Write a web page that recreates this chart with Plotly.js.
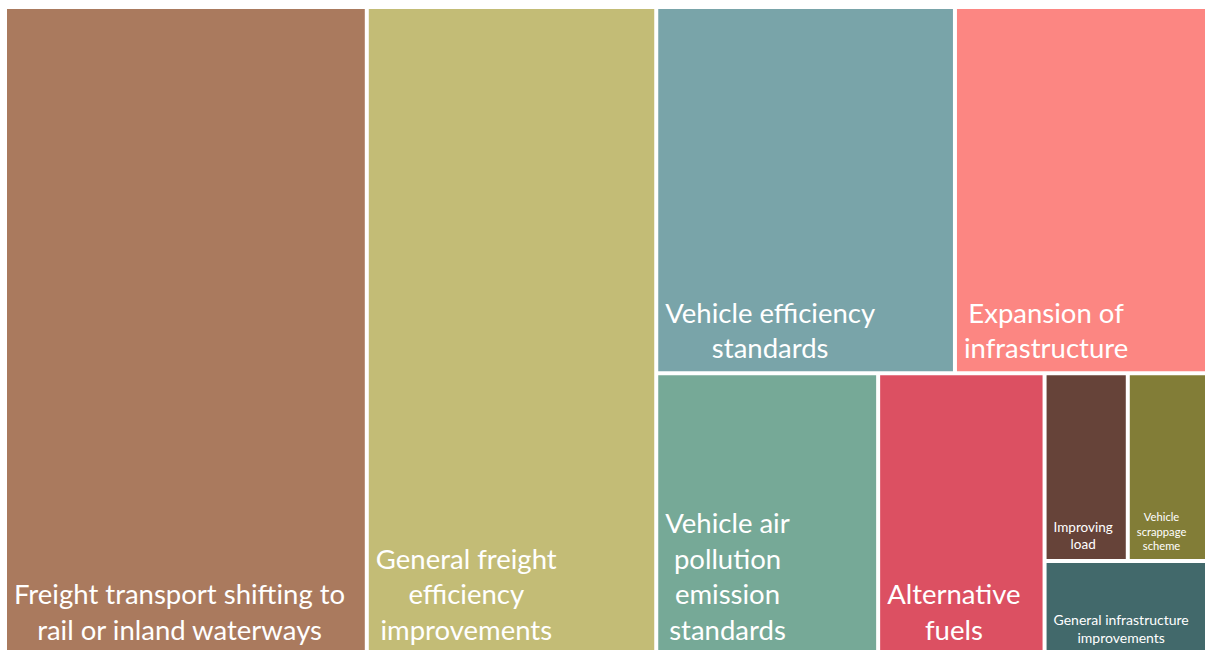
<!DOCTYPE html>
<html>
<head>
<meta charset="utf-8">
<script src="https://cdn.plot.ly/plotly-3.0.1.min.js"></script>
<style>
html, body { margin: 0; padding: 0; overflow: hidden; background: #ffffff; }
#chart { width: 1210px; height: 653px; }
</style>
</head>
<body>
<div id="chart"></div>
<script>
// ---- data (share of measures, %) ----
const categories = [
  "Freight transport shifting to<br>rail or inland waterways",
  "General freight<br>efficiency<br>improvements",
  "Vehicle efficiency<br>standards",
  "Expansion of<br>infrastructure",
  "Vehicle air<br>pollution<br>emission<br>standards",
  "Alternative<br>fuels",
  "Improving<br>load",
  "Vehicle<br>scrappage<br>scheme",
  "General infrastructure<br>improvements"
];
const values = [30, 24, 14, 12, 8, 6, 2, 2, 2];
const colors = ["#AA7A5E", "#C3BC76", "#79A4A9", "#FC8682", "#76A997", "#DC5062", "#664339", "#827D37", "#42696B"];
const labelSizes = [27.5, 27.5, 27.5, 27.5, 27.5, 27.5, 13.5, 11.2, 14];

// ---- invisible grouping used to reproduce the tile arrangement ----
const groups = ["g-rest", "g-top", "g-bottom", "g-small", "g-smalltop"];
const groupParents = ["", "g-rest", "g-rest", "g-bottom", "g-small"];
const leafGroup = ["", "", "g-top", "g-top", "g-bottom", "g-bottom", "g-smalltop", "g-smalltop", "g-small"];
const order = ["L0", "L1", "g-rest", "g-top", "L2", "L3", "g-bottom", "L4", "L5", "g-small", "g-smalltop", "L6", "L7", "L8"];

const ids = [], labels = [], parents = [], vals = [], cols = [], sizes = [];
order.forEach(function (key) {
  if (key.charAt(0) === "L") {
    const i = +key.slice(1);
    ids.push("leaf" + i);
    labels.push(categories[i]);
    parents.push(leafGroup[i]);
    vals.push(values[i]);
    cols.push(colors[i]);
    sizes.push(labelSizes[i]);
  } else {
    const g = groups.indexOf(key);
    ids.push(key);
    labels.push("");
    parents.push(groupParents[g]);
    vals.push(0);
    cols.push("#ffffff");
    sizes.push(10);
  }
});

const data = [{
  type: "treemap",
  ids: ids,
  labels: labels,
  parents: parents,
  values: vals,
  branchvalues: "remainder",
  sort: false,
  textinfo: "label",
  textposition: "bottom left",
  textfont: { family: "Lato, 'Open Sans', sans-serif", color: "#ffffff", size: sizes },
  marker: { colors: cols, line: { width: 0 }, pad: { t: 0, l: 0, r: 0, b: 0 } },
  tiling: { packing: "slice-dice", pad: 4 },
  pathbar: { visible: false },
  hoverinfo: "skip"
}];

const layout = {
  width: 1210,
  height: 653,
  margin: { l: 7, r: 1, t: 9, b: 0 },
  paper_bgcolor: "#ffffff",
  font: { family: "Lato, sans-serif" },
  showlegend: false
};

Plotly.newPlot("chart", data, layout, { displayModeBar: false, staticPlot: true }).then(function (gd) {
  gd.querySelectorAll("text.slicetext").forEach(function (t) {
    const lines = t.querySelectorAll("tspan.line");
    if (lines.length < 2) return;
    // centre each line within the label block (block stays anchored bottom-left)
    const bb = t.getBBox();
    const cx = bb.x + bb.width / 2;
    t.setAttribute("text-anchor", "middle");
    t.setAttribute("x", cx);
    lines.forEach(function (l) { l.setAttribute("x", cx); });
    // slightly larger inner padding, as in the original
    const tr = t.getAttribute("transform") || "";
    t.setAttribute("transform", "translate(4,-4) " + tr);
  });
});
</script>
</body>
</html>
